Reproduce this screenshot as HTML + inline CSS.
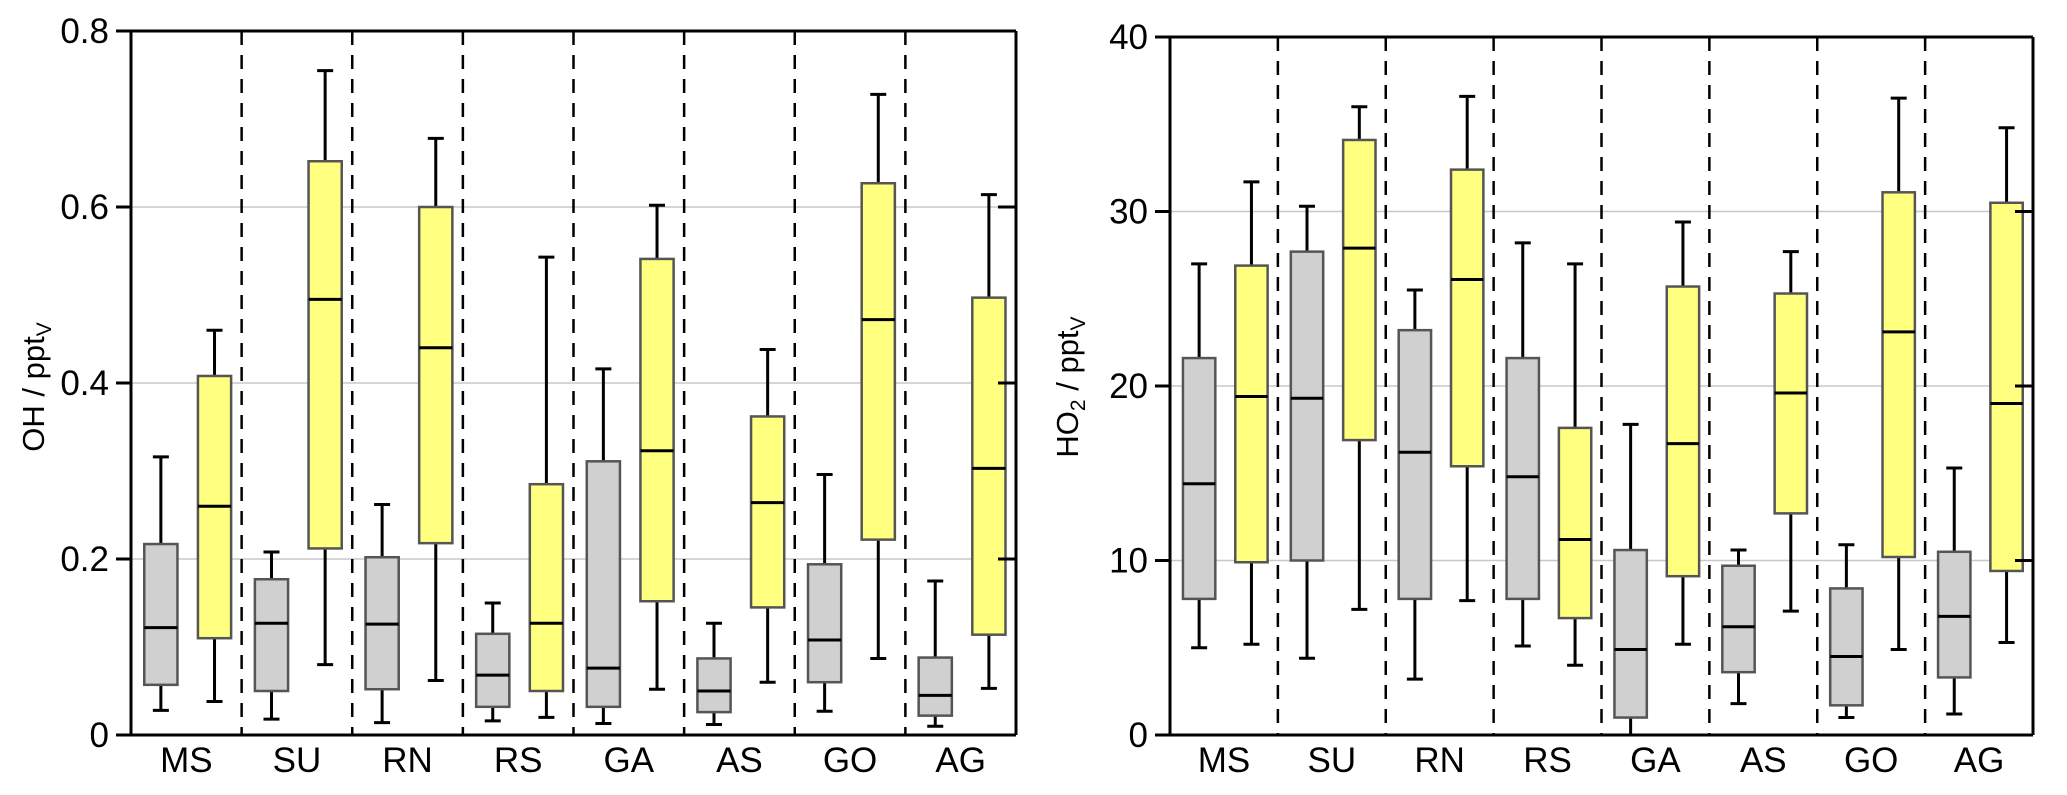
<!DOCTYPE html>
<html><head><meta charset="utf-8"><style>
html,body{margin:0;padding:0;background:#fff;}
svg{display:block;font-family:"Liberation Sans",sans-serif;}
</style></head><body>
<svg id="fig" width="2067" height="795" viewBox="0 0 2067 795"></svg>
<script>
const categories=["MS","SU","RN","RS","GA","AS","GO","AG"];
// [whiskerLow, q1, median, q3, whiskerHigh]
const ohGray=[[0.028,0.057,0.122,0.217,0.316],[0.018,0.05,0.127,0.177,0.208],[0.014,0.052,0.126,0.202,0.262],[0.016,0.032,0.068,0.115,0.15],[0.013,0.032,0.076,0.311,0.416],[0.012,0.026,0.05,0.087,0.127],[0.027,0.06,0.108,0.194,0.296],[0.01,0.022,0.045,0.088,0.175]];
const ohYellow=[[0.038,0.11,0.26,0.408,0.46],[0.08,0.212,0.495,0.652,0.755],[0.062,0.218,0.44,0.6,0.678],[0.02,0.05,0.127,0.285,0.543],[0.052,0.152,0.323,0.541,0.602],[0.06,0.145,0.264,0.362,0.438],[0.087,0.222,0.472,0.627,0.728],[0.053,0.114,0.303,0.497,0.614]];
const ho2Gray=[[5,7.8,14.4,21.6,27],[4.4,10,19.3,27.7,30.3],[3.2,7.8,16.2,23.2,25.5],[5.1,7.8,14.8,21.6,28.2],[0,1,4.9,10.6,17.8],[1.8,3.6,6.2,9.7,10.6],[1,1.7,4.5,8.4,10.9],[1.2,3.3,6.8,10.5,15.3]];
const ho2Yellow=[[5.2,9.9,19.4,26.9,31.7],[7.2,16.9,27.9,34.1,36],[7.7,15.4,26.1,32.4,36.6],[4,6.7,11.2,17.6,27],[5.2,9.1,16.7,25.7,29.4],[7.1,12.7,19.6,25.3,27.7],[4.9,10.2,23.1,31.1,36.5],[5.3,9.4,19,30.5,34.8]];
const ohTicks=[0,0.2,0.4,0.6,0.8];
const ohTickLabels=["0","0.2","0.4","0.6","0.8"];
const ho2Ticks=[0,10,20,30,40];
const ho2TickLabels=["0","10","20","30","40"];

const svg=document.getElementById('fig');
const NS="http://www.w3.org/2000/svg";
function mk(tag,attrs,parent){const e=document.createElementNS(NS,tag);for(const k in attrs)e.setAttribute(k,attrs[k]);(parent||svg).appendChild(e);return e;}

function panel(p){
  const g=mk('g',{});
  
  
  const y=v=>p.y1-(v-p.min)/(p.max-p.min)*(p.y1-p.y0);
  const cw=(p.x1-p.x0)/categories.length;
  const x=i=>p.x0+i*cw;
  p.ticks.forEach((t,i)=>{
    if(i>0&&i<p.ticks.length-1){
      const l=mk('line',{x1:p.x0,x2:p.x1,y1:y(t),y2:y(t),stroke:'#c8c8c8','stroke-width':1.5},g);
      
      
    }
  });
  for(let i=1;i<categories.length;i++){
    const l=mk('line',{x1:x(i),x2:x(i),y1:p.y0,y2:p.y1,stroke:'#000','stroke-width':2.5,'stroke-dasharray':'14,10'},g);
    
    
  }
  const bw=cw*0.3;
  function box(d,cx,fill,nm){
    const bg=mk('g',{},g);
    
    
    mk('line',{x1:cx,x2:cx,y1:y(d[0]),y2:y(d[4]),stroke:'#000','stroke-width':3},bg);
    mk('line',{x1:cx-8,x2:cx+8,y1:y(d[0]),y2:y(d[0]),stroke:'#000','stroke-width':3},bg);
    mk('line',{x1:cx-8,x2:cx+8,y1:y(d[4]),y2:y(d[4]),stroke:'#000','stroke-width':3},bg);
    mk('rect',{x:cx-bw/2,y:y(d[3]),width:bw,height:y(d[1])-y(d[3]),fill:fill,stroke:'#555','stroke-width':2.5},bg);
    mk('line',{x1:cx-bw/2,x2:cx+bw/2,y1:y(d[2]),y2:y(d[2]),stroke:'#000','stroke-width':3},bg);
  }
  categories.forEach((c,i)=>{
    box(p.gray[i],x(i)+cw*0.27,'#d0d0d0','box-gray-'+c.toLowerCase());
    box(p.yellow[i],x(i)+cw*0.755,'#ffff80','box-yellow-'+c.toLowerCase());
    const t=mk('text',{x:x(i)+cw*0.5,y:p.y1+37,'text-anchor':'middle','font-size':35},g);
    t.textContent=c;
    
    
  });
  mk('line',{x1:p.x0-15,x2:p.x1,y1:p.y0,y2:p.y0,stroke:'#000','stroke-width':3},g);
  mk('line',{x1:p.x0-15,x2:p.x1,y1:p.y1,y2:p.y1,stroke:'#000','stroke-width':3},g);
  mk('line',{x1:p.x0,x2:p.x0,y1:p.y0,y2:p.y1,stroke:'#000','stroke-width':3},g);
  mk('line',{x1:p.x1,x2:p.x1,y1:p.y0,y2:p.y1,stroke:'#000','stroke-width':3},g);
  p.ticks.forEach((t,i)=>{
    mk('line',{x1:p.x0-15,x2:p.x0,y1:y(t),y2:y(t),stroke:'#000','stroke-width':3},g);
    mk('line',{x1:p.x1-18,x2:p.x1,y1:y(t),y2:y(t),stroke:'#000','stroke-width':3},g);
    const tx=mk('text',{x:p.x0-22,y:y(t)+12,'text-anchor':'end','font-size':35},g);
    tx.textContent=p.labels[i];
    
    
  });
  const cy=p.titleY;
  const tt=mk('text',{x:p.titleX,y:cy,'text-anchor':'middle','font-size':31,transform:`rotate(-90 ${p.titleX} ${cy})`},g);
  
  
  tt.innerHTML=p.title;
}
panel({name:'oh-panel',x0:131,x1:1016,y0:31,y1:735,min:0,max:0.8,ticks:ohTicks,labels:ohTickLabels,gray:ohGray,yellow:ohYellow,titleX:44,titleY:387,title:'OH / ppt<tspan font-size="21" dy="7">V</tspan>'});
panel({name:'ho2-panel',x0:1170,x1:2033,y0:37,y1:735,min:0,max:40,ticks:ho2Ticks,labels:ho2TickLabels,gray:ho2Gray,yellow:ho2Yellow,titleX:1078,titleY:387,title:'HO<tspan font-size="21" dy="7">2</tspan><tspan dy="-7"> / ppt</tspan><tspan font-size="21" dy="7">V</tspan>'});
</script>
</body></html>
